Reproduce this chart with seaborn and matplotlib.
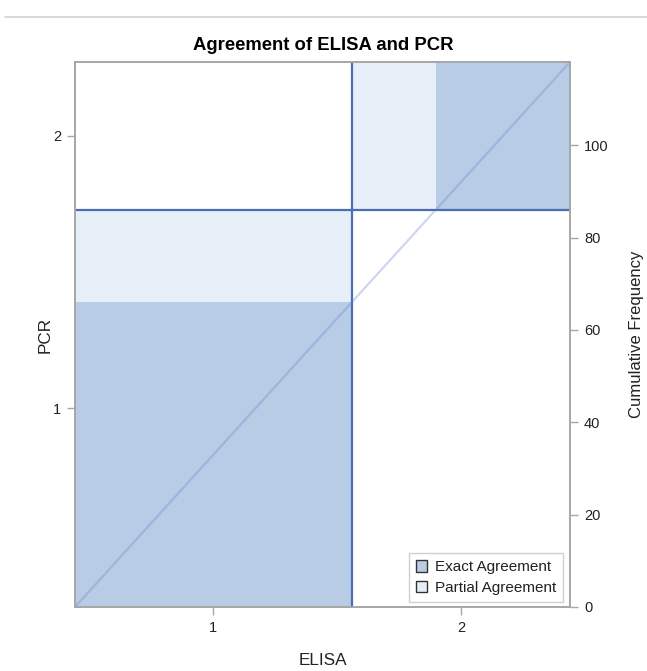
import matplotlib
matplotlib.use("Agg")
import matplotlib.pyplot as plt
from matplotlib import font_manager
from matplotlib.patches import Patch
from matplotlib.lines import Line2D
import seaborn as sns
import numpy as np
import pandas as pd

# ---- data ----
categories = ["1", "2"]
# counts[i][j]: PCR = categories[i], ELISA = categories[j]
counts_pcr1 = [66, 20]
counts_pcr2 = [0, 32]
cum_ticks = [0, 20, 40, 60, 80, 100]
title = "Agreement of ELISA and PCR"
xlabel = "ELISA"
ylabel = "PCR"
ylabel2 = "Cumulative Frequency"
legend_labels = ["Exact Agreement", "Partial Agreement"]

counts = np.array([counts_pcr1, counts_pcr2])
row_tot = counts.sum(axis=1)
col_tot = counts.sum(axis=0)
N = counts.sum()
cumrow = np.concatenate([[0], np.cumsum(row_tot)])
cumcol = np.concatenate([[0], np.cumsum(col_tot)])
k = len(categories)

sns.set_theme(style="white")
avail = {f.name for f in font_manager.fontManager.ttflist}
base_font = "Liberation Sans" if "Liberation Sans" in avail else "DejaVu Sans"
title_font = "Liberation Sans Narrow" if "Liberation Sans Narrow" in avail else base_font
plt.rcParams["font.family"] = [base_font, "DejaVu Sans"]

DARK = "#B8CDE5"
LIGHT = "#E6EEF8"
LINE = "#4A6DB4"
SPINE = "#A6A6A6"
TXT = "#222222"

fig = plt.figure(figsize=(6.47, 6.71), dpi=100)
ax = fig.add_axes([75 / 647, 1 - 607 / 671, 495 / 647, 545 / 671])

# partial agreement boxes (adjacent cells) and exact agreement squares
for i in range(k):
    lo = max(i - 1, 0)
    hi = min(i + 1, k - 1)
    px0 = cumcol[i] + counts[:lo, i].sum()
    pw = counts[lo:hi + 1, i].sum()
    py0 = cumrow[i] + counts[i, :lo].sum()
    ph = counts[i, lo:hi + 1].sum()
    ax.bar(px0, ph, width=pw, bottom=py0, align="edge", color=LIGHT,
           edgecolor="none", linewidth=0, zorder=1)
    ex0 = cumcol[i] + counts[:i, i].sum()
    ey0 = cumrow[i] + counts[i, :i].sum()
    ax.bar(ex0, counts[i, i], width=counts[i, i], bottom=ey0, align="edge",
           color=DARK, edgecolor="none", linewidth=0, zorder=2)

# category boundaries
for c in cumcol[1:-1]:
    ax.axvline(c, color=LINE, lw=1.6, zorder=3)
for r in cumrow[1:-1]:
    ax.axhline(r, color=LINE, lw=1.6, zorder=3)

# diagonal
diag = pd.DataFrame({"x": [0, N], "y": [0, N]})
sns.lineplot(data=diag, x="x", y="y", ax=ax, color="#5B7FD0", alpha=0.3,
             lw=1.6, zorder=4)

ax.set_xlim(0, N)
ax.set_ylim(0, N)
ax.set_xticks((cumcol[:-1] + cumcol[1:]) / 2)
ax.set_xticklabels(categories)
ax.set_yticks((cumrow[:-1] + cumrow[1:]) / 2)
ax.set_yticklabels(categories)
ax.set_xlabel(xlabel, fontsize=12.3, color=TXT, labelpad=13)
ax.set_ylabel(ylabel, fontsize=12.3, color=TXT, labelpad=0)
ax.tick_params(axis="both", which="both", length=6, width=1, color=SPINE,
               labelsize=10.5, labelcolor=TXT, direction="out", pad=4)
ax.tick_params(axis="x", bottom=True)
ax.tick_params(axis="y", left=True)
for s in ax.spines.values():
    s.set_color(SPINE)
    s.set_linewidth(1.2)
    s.set_zorder(5)

ax2 = ax.twinx()
ax2.set_ylim(0, N)
ax2.set_yticks(cum_ticks)
ax2.set_yticklabels([str(t) for t in cum_ticks])
ax2.tick_params(axis="y", right=True, length=6, width=1, color=SPINE,
                labelsize=10.5, labelcolor=TXT, pad=4)
ax2.set_ylabel(ylabel2, fontsize=12, color=TXT, rotation=90, labelpad=15)
for s in ax2.spines.values():
    s.set_color(SPINE)
    s.set_linewidth(1.2)

handles = [Patch(facecolor=DARK, edgecolor="#333333", lw=1),
           Patch(facecolor=LIGHT, edgecolor="#333333", lw=1)]
leg = ax2.legend(handles, legend_labels, loc="lower right",
                 bbox_to_anchor=(0.986, 0.009), fontsize=11, frameon=True,
                 fancybox=False, edgecolor="#D0D0D0", framealpha=1,
                 handlelength=0.75, handleheight=0.75, handletextpad=0.5,
                 borderpad=0.45, labelspacing=0.45, borderaxespad=0)
leg.get_frame().set_linewidth(1)
for t in leg.get_texts():
    t.set_color(TXT)

fig.text(0.5, 1 - 45 / 671, title, ha="center", va="center", fontsize=13.3,
         fontweight="bold", color="black", family=[title_font, "DejaVu Sans"])

fig.add_artist(Line2D([5 / 647, 1], [1 - 17 / 671, 1 - 17 / 671],
                      color="#D3D3D3", lw=1.2, transform=fig.transFigure))

fig.savefig("out.png", dpi=100)
